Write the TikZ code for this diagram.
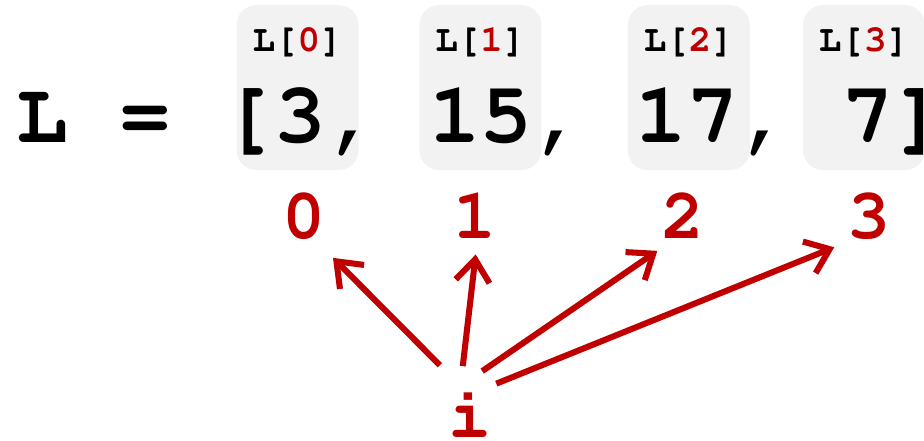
\documentclass[tikz,border=0pt]{standalone}
\usepackage[T1]{fontenc}
\newcommand\codefont{\fontfamily{pcr}\fontseries{b}\selectfont}
\usetikzlibrary{arrows.meta}
\usetikzlibrary{calc}
\usepackage[rgb]{xcolor}
\definecolor{fg}{HTML}{000000}
\definecolor{bx}{HTML}{F2F2F2}
\definecolor{re}{HTML}{C00000}

\begin{document}
\begin{tikzpicture}[
  cell/.style = {fill=bx, rounded corners=0.5cm, minimum width=3.05cm, minimum height=4.125cm, inner sep=0},
  lbl/.style  = {text=fg, inner sep=0, font=\fontsize{26.7pt}{26.7pt}\codefont},
  lst/.style  = {text=fg, inner sep=0, font=\fontsize{61.2pt}{61.2pt}\codefont},
  idx/.style  = {text=re, circle, inner sep=0, minimum size=2.2cm, font=\fontsize{51pt}{51pt}\codefont},
  ptr/.style  = {draw=re, line width=4.3pt, -{Straight Barb[length=5.5mm, width=8.5mm]}}
  ]
  \useasboundingbox (0,0) rectangle (23.1,11);

  \foreach \n/\x in {0/7.44, 1/12.01, 2/17.22, 3/21.6} {
    \node[cell] (box\n) at (\x,8.81) {};
    \node[lbl, anchor = center] (lbl\n) at ($(box\n.north)+(0,-0.915)$) {L[{\color{re}\n}]};
  }

  \node[lst, anchor = base west] (lst) at (0.4,7.425) {L = [3, 15, 17, 7]};

  \foreach \n/\x in {0/7.6, 1/11.875, 2/17.075, 3/21.725}
    \node[idx, anchor = base] (idx\n) at (\x,5.03) {\n};

  \node[idx, anchor = base] (i) at (11.75,0.06) {i};

  \foreach \n/\a/\b/\s/\t in {0/118/-56/0.33/0.15, 1/100/-90/0.1/-0.15, 2/74/-127/0/-0.03, 3/46/-138/-0.12/0.05}
    \draw[ptr, shorten <=\s cm, shorten >=\t cm] (i.\a) -- (idx\n.\b);
\end{tikzpicture}
\end{document}
